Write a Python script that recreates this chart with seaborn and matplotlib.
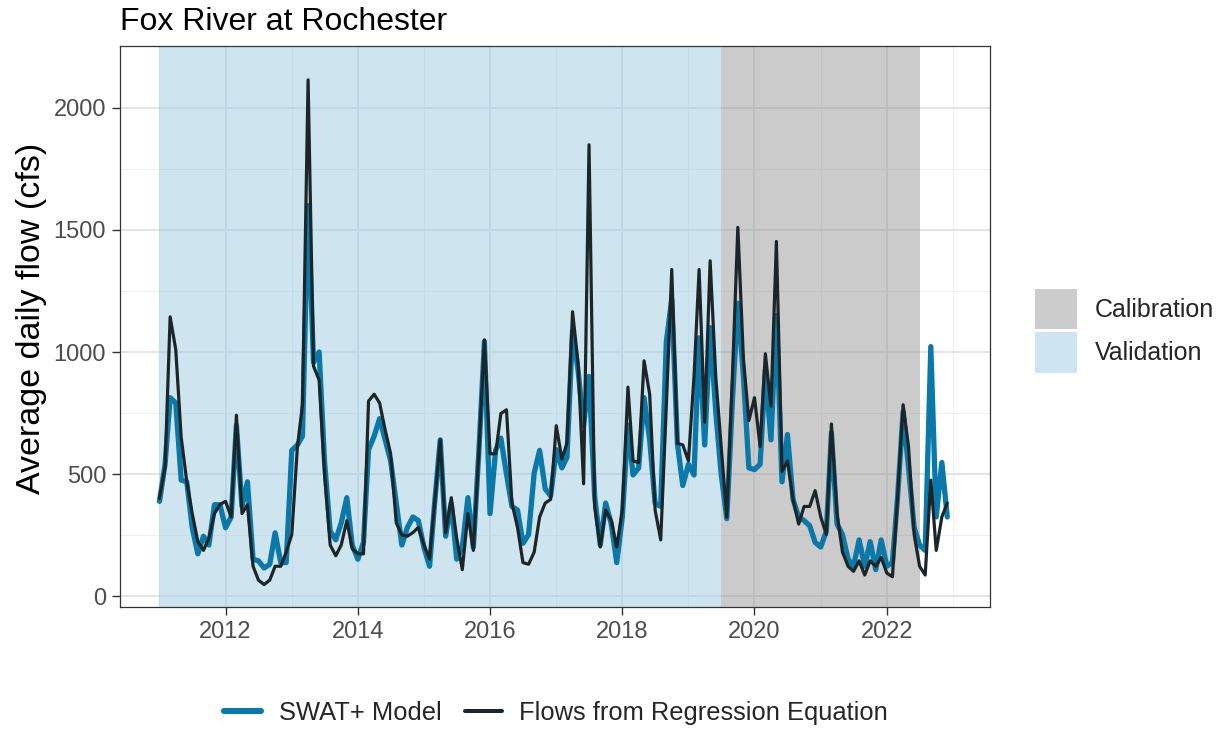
import pandas as pd
import numpy as np
import matplotlib
matplotlib.use("Agg")
import matplotlib.pyplot as plt
import matplotlib.dates as mdates
from matplotlib.lines import Line2D
from matplotlib.patches import Patch
import seaborn as sns

# Monthly flows, Jan 2011 - Dec 2022 (cfs)
months = pd.date_range("2011-01-01", "2022-12-01", freq="MS")

regression_flow = [
    400, 530, 1144, 1010, 650, 468, 338, 223, 187, 237, 338, 375,
    388, 324, 741, 338, 374, 122, 65, 47, 65, 122, 122, 180,
    252, 611, 784, 2115, 942, 885, 500, 209, 165, 209, 309, 194,
    173, 173, 799, 827, 791, 680, 583, 300, 250, 245, 260, 281,
    210, 151, 380, 640, 259, 403, 237, 108, 338, 187, 600, 1050,
    583, 583, 748, 763, 381, 281, 137, 130, 180, 324, 381, 396,
    698, 561, 626, 1165, 957, 460, 1849, 367, 201, 352, 309, 201,
    352, 856, 554, 547, 964, 827, 352, 230, 780, 1338, 626, 619,
    554, 900, 1338, 712, 1374, 899, 612, 324, 900, 1511, 971, 719,
    813, 612, 993, 777, 1453, 511, 554, 396, 295, 367, 367, 432,
    324, 252, 705, 338, 180, 122, 101, 144, 86, 144, 122, 158,
    94, 79, 400, 784, 611, 252, 122, 86, 475, 187, 324, 381,
]

swat_flow = [
    388, 540, 813, 791, 475, 468, 280, 173, 245, 209, 374, 374,
    280, 324, 700, 367, 468, 151, 144, 115, 130, 259, 137, 137,
    597, 619, 655, 1600, 957, 1000, 550, 266, 230, 300, 403, 209,
    151, 220, 600, 655, 727, 640, 554, 380, 209, 280, 324, 309,
    200, 122, 380, 640, 245, 381, 151, 200, 403, 200, 600, 1043,
    338, 597, 647, 500, 367, 352, 216, 252, 504, 597, 439, 410,
    600, 525, 568, 1086, 928, 700, 900, 410, 209, 381, 295, 137,
    324, 700, 496, 525, 813, 640, 380, 367, 1043, 1216, 626, 453,
    540, 496, 1058, 619, 1100, 755, 500, 317, 800, 1200, 900, 525,
    518, 540, 928, 640, 1150, 468, 662, 396, 324, 309, 288, 220,
    201, 266, 669, 295, 252, 151, 122, 230, 122, 223, 108, 230,
    122, 137, 400, 755, 525, 281, 209, 187, 1022, 324, 547, 324,
]

periods = ["Validation", "Calibration"]
period_start = ["2011-01-01", "2019-07-01"]
period_end = ["2019-07-01", "2022-07-01"]
period_colors = {"Validation": "#9ecae1", "Calibration": "#999999"}

series_names = ["SWAT+ Model", "Flows from Regression Equation"]
series_colors = {"SWAT+ Model": "#0a78a8", "Flows from Regression Equation": "#1c2628"}
series_widths = {"SWAT+ Model": 3.8, "Flows from Regression Equation": 2.3}

df = pd.DataFrame({
    "date": list(months) * 2,
    "flow": swat_flow + regression_flow,
    "series": [series_names[0]] * len(months) + [series_names[1]] * len(months),
})

sns.set_theme(style="whitegrid")
plt.rcParams["font.family"] = ["Liberation Sans", "DejaVu Sans"]

fig = plt.figure(figsize=(12.25, 7.34), dpi=100)
ax = fig.add_axes([120 / 1225, 1 - 607 / 734, 870 / 1225, 561 / 734])

# grid (major + minor) like ggplot theme_bw
ax.set_axisbelow(True)
ax.xaxis.set_major_locator(mdates.YearLocator(2))
ax.xaxis.set_major_formatter(mdates.DateFormatter("%Y"))
ax.set_xticks([pd.Timestamp(f"{y}-01-01") for y in range(2011, 2024, 2)], minor=True)
ax.set_yticks([0, 500, 1000, 1500, 2000])
ax.set_yticks([250, 750, 1250, 1750], minor=True)
ax.grid(which="major", color="#dcdcdc", linewidth=1.1)
ax.grid(which="minor", color="#ececec", linewidth=0.6)

# shaded periods sit over the grid, so the grid shows through slightly darker
for name, s, e in zip(periods, period_start, period_end):
    ax.axvspan(pd.Timestamp(s), pd.Timestamp(e), color=period_colors[name],
               alpha=0.5, lw=0, zorder=1)

for name in series_names:
    sub = df[df["series"] == name]
    sns.lineplot(data=sub, x="date", y="flow", ax=ax, color=series_colors[name],
                 linewidth=series_widths[name], legend=False, zorder=3)

ax.set_xlim(pd.Timestamp("2010-05-28"), pd.Timestamp("2023-07-25"))
ax.set_ylim(-45, 2254)
ax.set_xlabel("")
ax.set_ylabel("Average daily flow (cfs)", fontsize=24.5, color="black")
ax.yaxis.set_label_coords(-0.084, 0.514)
ax.tick_params(axis="both", which="major", labelsize=17, labelcolor="#4d4d4d",
               length=6, width=1, color="#333333", bottom=True, left=True, pad=4)
ax.tick_params(axis="both", which="minor", length=0)
for sp in ax.spines.values():
    sp.set_color("#333333")
    sp.set_linewidth(0.9)

fig.text(120 / 1225, 1 - 22 / 734, "Fox River at Rochester", fontsize=23,
         va="center", ha="left", color="black")

fill_handles = [Patch(facecolor="#cccccc", edgecolor="none", label="Calibration"),
                Patch(facecolor="#cee4f0", edgecolor="none", label="Validation")]
fig.legend(handles=fill_handles, loc="center left",
           bbox_to_anchor=(1012 / 1225, 1 - 331 / 734), frameon=False,
           fontsize=18, handlelength=1.68, handleheight=2.1,
           labelspacing=0.12, handletextpad=0.72, borderpad=0.4)

line_handles = [Line2D([], [], color=series_colors[n], lw=series_widths[n] + 0.6, label=n)
                for n in series_names]
fig.legend(handles=line_handles, loc="center", ncol=2,
           bbox_to_anchor=(556 / 1225, 1 - 713 / 734), frameon=False,
           fontsize=18.4, handlelength=1.45, columnspacing=0.9, handletextpad=0.7)

fig.savefig("out.png", dpi=100)
